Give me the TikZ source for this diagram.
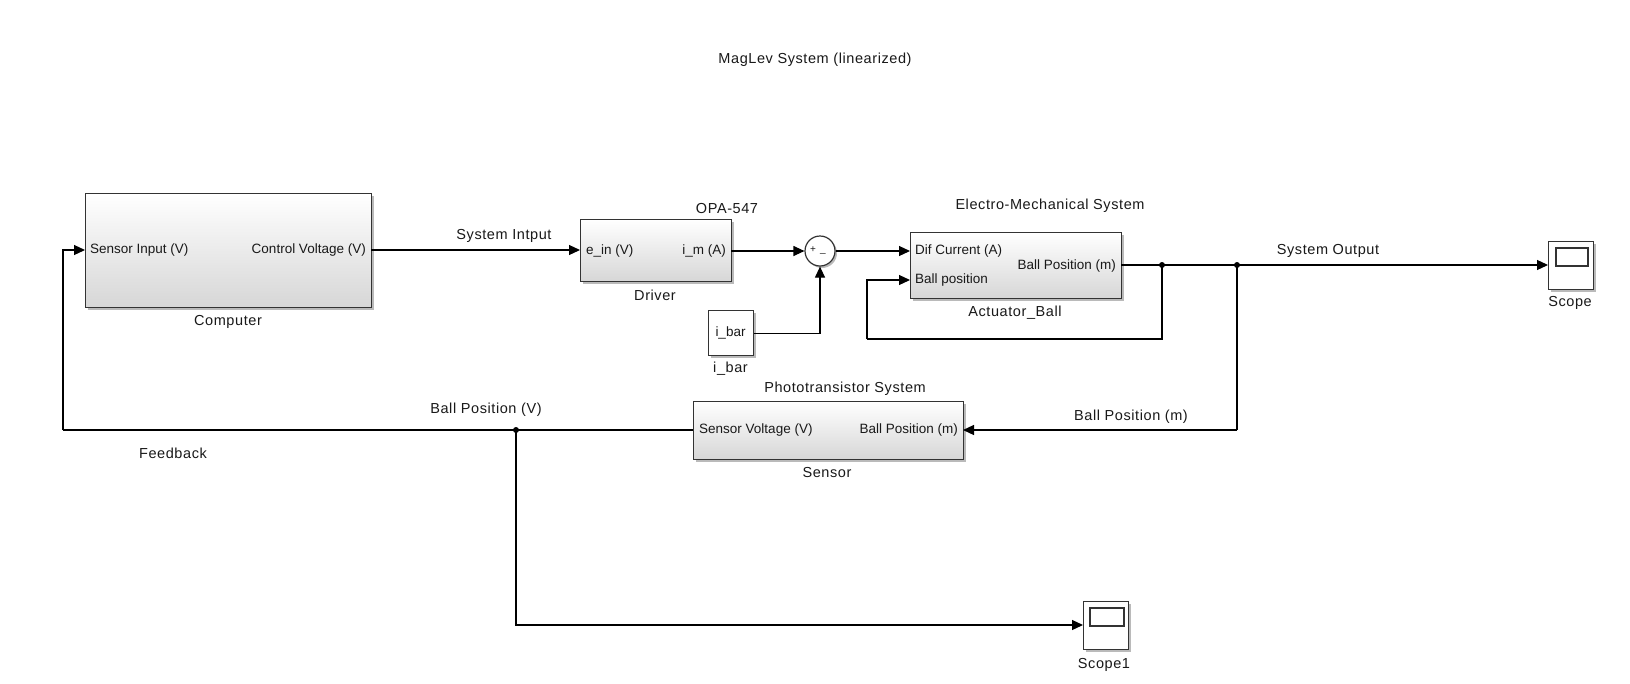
\documentclass[tikz,border=0pt]{standalone}
\usepackage{fontspec}
\setmainfont{Liberation Sans}
\newfontfamily\lblfont[LetterSpace=4]{Liberation Sans}
\usetikzlibrary{arrows.meta,shadows}
\begin{document}
\begin{tikzpicture}[x=1pt,y=-1pt,
  every node/.style={font=\fontsize{13.5}{16}\selectfont, inner sep=0pt, text=black!90},
  blk/.style={draw=black!80, line width=1.3pt, top color=white, bottom color=black!16,
    drop shadow={shadow xshift=2.5pt,shadow yshift=-2.5pt,fill=black!45,opacity=0.6},
    anchor=north west},
  wblk/.style={draw=black!80, line width=1.3pt, fill=white,
    drop shadow={shadow xshift=2.5pt,shadow yshift=-2.5pt,fill=black!45,opacity=0.6},
    anchor=north west},
  wire/.style={line width=1.2pt, draw=black},
  conn/.style={wire, -{Triangle[length=11pt,width=10pt]}},
  lbl/.style={anchor=center, font=\lblfont\fontsize{14.5}{17}\selectfont},
  dot/.style={circle, fill=black, minimum size=6pt, inner sep=0pt}
]
\fill[white] (0,0) rectangle (1630,683);
\useasboundingbox (0,0) rectangle (1630,683);

% title
\node[lbl] (title) at (815,60) {MagLev System (linearized)};

% Computer
\node[blk, minimum width=286pt, minimum height=114pt] (comp) at (85,193) {};
\node[anchor=west] (compin) at (90,250) {Sensor Input (V)};
\node[anchor=east] (compoutl) at (366,250) {Control Voltage (V)};
\node[lbl] (compname) at (228,322) {Computer};

% Driver
\node[blk, minimum width=151pt, minimum height=62pt] (drv) at (580,219) {};
\node[anchor=west] (drvin) at (586,251) {e\_in (V)};
\node[anchor=east] (drvout) at (726,251) {i\_m (A)};
\node[lbl] (drvtop) at (727,209) {OPA-547};
\node[lbl] (drvname) at (655,295) {Driver};

% Sum
\node[circle, draw=black!80, line width=1.2pt, fill=white, minimum size=30pt,
  drop shadow={shadow xshift=2pt,shadow yshift=-2pt,fill=black!45,opacity=0.6}] (sum) at (820,251) {};
\node[font=\fontsize{10}{12}\selectfont] (sumplus) at (813,250) {+};
\node[font=\fontsize{10}{12}\selectfont] (summinus) at (823,253) {\_};

% i_bar constant
\node[wblk, minimum width=45pt, minimum height=45pt] (ibar) at (708,310) {};
\node[anchor=center] (ibartxt) at (730.5,333) {i\_bar};
\node[lbl] (ibarname) at (730.5,369) {i\_bar};

% Actuator
\node[blk, minimum width=211pt, minimum height=66pt] (act) at (910,232) {};
\node[anchor=west] (actin1) at (915,251) {Dif Current (A)};
\node[anchor=west] (actin2) at (915,280) {Ball position};
\node[anchor=east] (actout) at (1116,266) {Ball Position (m)};
\node[lbl] (acttop) at (1050,206) {Electro-Mechanical System};
\node[lbl] (actname) at (1015,313) {Actuator\_Ball};

% Scope
\node[wblk, minimum width=45pt, minimum height=48pt] (scope) at (1548,241) {};
\draw[black!80, line width=1.1pt] (1556,248) rectangle (1588,266);
\node[lbl] (scopename) at (1570,303) {Scope};

% Sensor
\node[blk, minimum width=270pt, minimum height=58pt] (sens) at (693,401) {};
\node[anchor=west] (sensout) at (699,430) {Sensor Voltage (V)};
\node[anchor=east] (sensin) at (958,430) {Ball Position (m)};
\node[lbl] (senstop) at (845,389) {Phototransistor System};
\node[lbl] (sensname) at (827,473) {Sensor};

% Scope1
\node[wblk, minimum width=45pt, minimum height=48pt] (scope1) at (1083,601) {};
\draw[black!80, line width=1.1pt] (1090,608) rectangle (1124,626);
\node[lbl] (scope1name) at (1104,665) {Scope1};

% ports / junctions
\coordinate (pCompOut) at (371,250);
\coordinate (pCompIn) at (85,250);
\coordinate (pDrvIn) at (580,250);
\coordinate (pDrvOut) at (731,251);
\coordinate (pActIn1) at (910,251);
\coordinate (pActIn2) at (910,280);
\coordinate (pActOut) at (1121,265);
\coordinate (pScopeIn) at (1548,265);
\coordinate (pSensIn) at (963,430);
\coordinate (pSensOut) at (693,430);
\coordinate (pScope1In) at (1083,625);
\node[dot] (j1) at (1162,265) {};
\node[dot] (j2) at (1237,265) {};
\node[dot] (j3) at (516,430) {};
\coordinate (c1) at (867,339);
\coordinate (c2) at (63,430);

% connectors
\draw[conn] (pCompOut) -- (pDrvIn);
\draw[conn] (pDrvOut) -- (sum.west);
\draw[conn] (ibar.east) -| (sum.south);
\draw[conn] (sum.east) -- (pActIn1);
\draw[conn] (pActOut) -- (pScopeIn);
\draw[wire] (j1.center) -- (j1.center |- c1) -- (c1);
\draw[conn] (c1) |- (pActIn2);
\draw[wire] (j2.center) -- (j2.center |- pSensIn);
\draw[conn] (j2.center |- pSensIn) -- (pSensIn);
\draw[wire] (pSensOut) -- (c2);
\draw[conn] (c2) |- (pCompIn);
\draw[conn] (j3.center) |- (pScope1In);

% connector labels
\node[lbl] (lSysIn) at (504,236) {System Intput};
\node[lbl] (lSysOut) at (1328,251) {System Output};
\node[lbl] (lBallM) at (1131,417) {Ball Position (m)};
\node[lbl] (lBallV) at (486,410) {Ball Position (V)};
\node[lbl] (lFeed) at (173,453) {Feedback};
\end{tikzpicture}
\end{document}
